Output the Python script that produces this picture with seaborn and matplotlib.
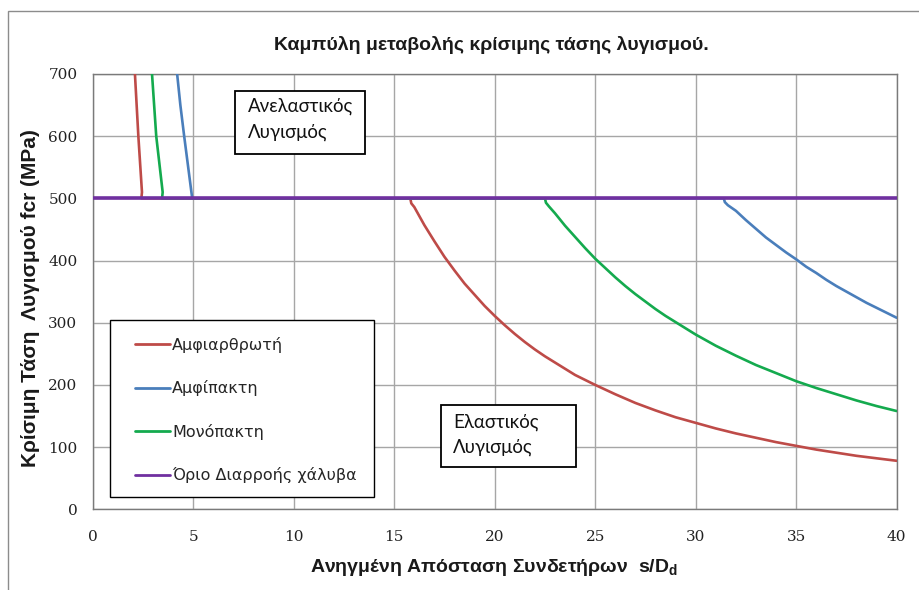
import numpy as np
import pandas as pd
import seaborn as sns
import matplotlib.pyplot as plt
from matplotlib.patches import Rectangle

# τιμές διαβασμένες από το διάγραμμα (s/Dd, fcr σε MPa)
red_x = [2.10, 2.27, 2.45, 2.42, 15.8, 15.85, 16.0, 16.5, 17.0, 17.5, 18.0, 18.5, 19.0, 19.5,
         20.0, 20.5, 21.0, 21.5, 22.0, 22.5, 23.0, 23.5, 24.0, 24.5, 25.0, 26.0, 27.0, 28.0,
         29.0, 30.0, 31.0, 32.0, 33.0, 34.0, 35.0, 36.0, 37.0, 38.0, 39.0, 40.0]
red_y = [700, 600, 510, 500, 500, 492, 486, 457, 431, 406, 384, 363, 345, 327,
         311, 296, 282, 269, 257, 246, 236, 226, 216, 208, 200, 185, 171, 159,
         148, 139, 130, 122, 115, 108, 102, 96, 91, 86, 82, 78]

blue_x = [4.20, 4.36, 4.55, 4.75, 4.95, 31.4, 31.45, 31.6, 32.0, 32.5, 33.0, 33.5, 34.0, 34.5,
          35.0, 35.5, 36.0, 36.5, 37.0, 37.5, 38.0, 38.5, 39.0, 39.5, 40.0]
blue_y = [700, 650, 600, 550, 500, 500, 494, 489, 480, 465, 451, 437, 425, 413,
          402, 390, 380, 369, 359, 350, 341, 332, 324, 316, 308]

green_x = [2.95, 3.16, 3.48, 3.45, 22.5, 22.55, 22.7, 23.0, 23.5, 24.0, 24.5, 25.0, 25.5, 26.0,
           26.5, 27.0, 27.5, 28.0, 28.5, 29.0, 29.5, 30.0, 31.0, 32.0, 33.0, 34.0, 35.0,
           36.0, 37.0, 38.0, 39.0, 40.0]
green_y = [700, 600, 510, 500, 500, 493, 487, 476, 456, 438, 420, 403, 388, 373,
           359, 346, 334, 322, 311, 301, 291, 281, 263, 247, 232, 219, 206,
           195, 185, 175, 166, 158]

yield_x = [0, 40]
yield_y = [500, 500]

labels = ['Αμφιαρθρωτή', 'Αμφίπακτη', 'Μονόπακτη', 'Όριο Διαρροής χάλυβα']
colors = ['#BE4B48', '#4A7EBB', '#14AA4E', '#7030A0']

x_ticks = [0, 5, 10, 15, 20, 25, 30, 35, 40]
y_ticks = [0, 100, 200, 300, 400, 500, 600, 700]

sns.set_style('white')
plt.rcParams['font.family'] = ['Liberation Sans', 'DejaVu Sans']
plt.rcParams['mathtext.fontset'] = 'custom'
plt.rcParams['mathtext.rm'] = 'Liberation Sans'
plt.rcParams['mathtext.bf'] = 'Liberation Sans:bold'

fig = plt.figure(figsize=(9.19, 5.90), dpi=100)
ax = fig.add_axes([0.1009, 0.1368, 0.8748, 0.7378])

series = [(red_x, red_y), (blue_x, blue_y), (green_x, green_y), (yield_x, yield_y)]
for i, (xs, ys) in enumerate(series):
    df = pd.DataFrame({'x': xs, 'y': ys})
    lw = 2.6 if i == 3 else 1.9
    sns.lineplot(data=df, x='x', y='y', ax=ax, color=colors[i], linewidth=lw,
                 sort=False, estimator=None, label=labels[i], zorder=3 + i)

ax.set_xlim(0, 40)
ax.set_ylim(0, 700)
ax.set_xticks(x_ticks)
ax.set_yticks(y_ticks)
ax.grid(True, color='#a6a6a6', linewidth=1.0)
ax.set_axisbelow(True)
for s in ax.spines.values():
    s.set_color('#7a7a7a')
    s.set_linewidth(1.0)
ax.tick_params(axis='both', direction='out', length=5, color='#8a8a8a', width=1,
               labelcolor='#222222', labelsize=11)
ax.tick_params(axis='y', pad=6)
ax.tick_params(axis='x', pad=10)
for lab in ax.get_xticklabels() + ax.get_yticklabels():
    lab.set_family('DejaVu Serif')

ax.set_xlabel('')
ax.set_ylabel('')
fig.text(0.537, 0.038, 'Ανηγμένη Απόσταση Συνδετήρων  s/D$_\\mathbf{d}$', ha='center', va='center',
         fontsize=14, fontweight='bold', color='#1a1a1a')
fig.text(0.033, 0.495, 'Κρίσιμη Τάση  Λυγισμού fcr (MPa)', ha='center', va='center',
         rotation=90, fontsize=15, fontweight='bold', color='#1a1a1a')
fig.text(0.535, 0.924, 'Καμπύλη μεταβολής κρίσιμης τάσης λυγισμού.', ha='center', va='center',
         fontsize=14, fontweight='bold', color='#1a1a1a')

# πλαίσιο υπομνήματος
ax.add_patch(Rectangle((0.0215, 0.0283), 0.3285, 0.4067, transform=ax.transAxes,
                       facecolor='white', edgecolor='black', linewidth=1.0, zorder=9))
leg = ax.legend(loc='upper left', bbox_to_anchor=(0.0315, 0.435), borderaxespad=0,
                frameon=False, labelspacing=1.72, handlelength=2.2, handletextpad=0.15,
                borderpad=1.05, prop={'family': 'DejaVu Sans', 'size': 11.5})
for h in leg.get_lines():
    h.set_linewidth(2.0)
leg.set_zorder(10)

# πλαίσια κειμένου
ax.add_patch(Rectangle((0.177, 0.816), 0.1617, 0.145, transform=ax.transAxes,
                       facecolor='white', edgecolor='black', linewidth=1.3, zorder=8))
ax.text(0.193, 0.925, 'Ανελαστικός', transform=ax.transAxes, fontsize=13.4,
        family='Lato', color='#111111', va='center', zorder=9)
ax.text(0.193, 0.865, 'Λυγισμός', transform=ax.transAxes, fontsize=13.4,
        family='Lato', color='#111111', va='center', zorder=9)

ax.add_patch(Rectangle((0.4332, 0.0972), 0.168, 0.1424, transform=ax.transAxes,
                       facecolor='white', edgecolor='black', linewidth=1.3, zorder=8))
ax.text(0.448, 0.201, 'Ελαστικός', transform=ax.transAxes, fontsize=13.4,
        family='Lato', color='#111111', va='center', zorder=9)
ax.text(0.448, 0.143, 'Λυγισμός', transform=ax.transAxes, fontsize=13.4,
        family='Lato', color='#111111', va='center', zorder=9)

# εξωτερικό πλαίσιο γραφήματος
fig.patches.append(Rectangle((0.0087, -0.05), 1.1, 0.05 + 0.981, transform=fig.transFigure,
                             facecolor='none', edgecolor='#8c8c8c', linewidth=1.0))

fig.savefig('out.png', dpi=100)
